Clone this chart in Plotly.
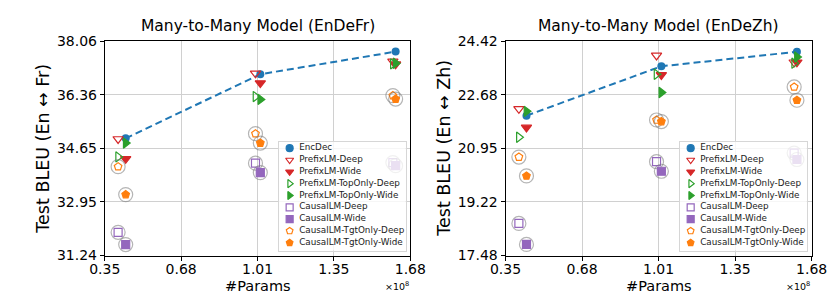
import plotly.graph_objects as go

# ---------------- data ----------------
series_names = ["EncDec", "PrefixLM-Deep", "PrefixLM-Wide", "PrefixLM-TopOnly-Deep",
                "PrefixLM-TopOnly-Wide", "CausalLM-Deep", "CausalLM-Wide",
                "CausalLM-TgtOnly-Deep", "CausalLM-TgtOnly-Wide"]

# model sizes (x 1e8 params)
params_deep = [0.408, 1.006, 1.604]
params_wide = [0.441, 1.027, 1.616]

# EnDeFr (Test BLEU En<->Fr)
encdec_fr = [34.97, 37.01, 37.73]
prefix_deep_fr = [34.95, 37.04, 37.42]
prefix_wide_fr = [34.32, 36.73, 37.33]
prefix_top_deep_fr = [34.38, 36.30, 37.34]
prefix_top_wide_fr = [34.82, 36.21, 37.36]
causal_deep_fr = [31.98, 34.18, 34.20]
causal_wide_fr = [31.59, 33.88, 34.10]
causal_tgt_deep_fr = [34.07, 35.12, 36.33]
causal_tgt_wide_fr = [33.18, 34.82, 36.22]

# EnDeZh (Test BLEU En<->Zh)
encdec_zh = [22.01, 23.61, 24.08]
prefix_deep_zh = [22.23, 23.96, 23.74]
prefix_wide_zh = [21.63, 23.33, 23.74]
prefix_top_deep_zh = [21.31, 23.35, 23.71]
prefix_top_wide_zh = [22.15, 22.76, 23.91]
causal_deep_zh = [18.52, 20.52, 20.80]
causal_wide_zh = [17.84, 20.21, 20.59]
causal_tgt_deep_zh = [20.67, 21.87, 22.94]
causal_tgt_wide_zh = [20.06, 21.82, 22.51]

x_tickvals = [0.35, 0.6825, 1.015, 1.3475, 1.68]
x_ticktext = ["0.35", "0.68", "1.01", "1.35", "1.68"]
y_tickvals_fr = [31.24, 32.945, 34.65, 36.355, 38.06]
y_ticktext_fr = ["31.24", "32.95", "34.65", "36.36", "38.06"]
y_tickvals_zh = [17.48, 19.215, 20.95, 22.685, 24.42]
y_ticktext_zh = ["17.48", "19.22", "20.95", "22.68", "24.42"]

# ---------------- styles ----------------
BLUE, RED, GREEN, PURPLE, ORANGE = "#1f77b4", "#d62728", "#2ca02c", "#9467bd", "#ff7f0e"
styles = {
    "EncDec": ("circle", BLUE),
    "PrefixLM-Deep": ("triangle-down-open", RED),
    "PrefixLM-Wide": ("triangle-down", RED),
    "PrefixLM-TopOnly-Deep": ("triangle-right-open", GREEN),
    "PrefixLM-TopOnly-Wide": ("triangle-right", GREEN),
    "CausalLM-Deep": ("square-open", PURPLE),
    "CausalLM-Wide": ("square", PURPLE),
    "CausalLM-TgtOnly-Deep": ("pentagon-open", ORANGE),
    "CausalLM-TgtOnly-Wide": ("pentagon", ORANGE),
}
FONT = "DejaVu Sans"

fig = go.Figure()

panels = [
    ("x", "y", {
        "EncDec": encdec_fr, "PrefixLM-Deep": prefix_deep_fr, "PrefixLM-Wide": prefix_wide_fr,
        "PrefixLM-TopOnly-Deep": prefix_top_deep_fr, "PrefixLM-TopOnly-Wide": prefix_top_wide_fr,
        "CausalLM-Deep": causal_deep_fr, "CausalLM-Wide": causal_wide_fr,
        "CausalLM-TgtOnly-Deep": causal_tgt_deep_fr, "CausalLM-TgtOnly-Wide": causal_tgt_wide_fr}),
    ("x2", "y2", {
        "EncDec": encdec_zh, "PrefixLM-Deep": prefix_deep_zh, "PrefixLM-Wide": prefix_wide_zh,
        "PrefixLM-TopOnly-Deep": prefix_top_deep_zh, "PrefixLM-TopOnly-Wide": prefix_top_wide_zh,
        "CausalLM-Deep": causal_deep_zh, "CausalLM-Wide": causal_wide_zh,
        "CausalLM-TgtOnly-Deep": causal_tgt_deep_zh, "CausalLM-TgtOnly-Wide": causal_tgt_wide_zh}),
]

for xa, ya, data in panels:
    for name in series_names:
        sym, col = styles[name]
        xs = params_deep if name.endswith("Deep") else params_wide
        ys = data[name]
        if name.startswith("CausalLM"):
            fig.add_trace(go.Scatter(x=xs, y=ys, mode="markers", xaxis=xa, yaxis=ya,
                                     marker=dict(symbol="circle-open", size=14,
                                                 color="rgba(120,120,120,0.55)",
                                                 line=dict(width=1.2)),
                                     showlegend=False, hoverinfo="skip"))
        if name == "EncDec":
            fig.add_trace(go.Scatter(x=xs, y=ys, mode="lines+markers", name=name,
                                     xaxis=xa, yaxis=ya,
                                     line=dict(color=col, width=2, dash="7px,4px"),
                                     marker=dict(symbol=sym, size=8, color=col),
                                     showlegend=False))
        else:
            size = 9 if "triangle" in sym else 8
            fig.add_trace(go.Scatter(x=xs, y=ys, mode="markers", name=name,
                                     xaxis=xa, yaxis=ya,
                                     marker=dict(symbol=sym, size=size, color=col,
                                                 line=dict(width=1.2, color=col)),
                                     showlegend=False))

# ---------------- custom legends (overlaid small subplots) ----------------
leg_symbols = [styles[n][0] for n in series_names]
leg_colors = [styles[n][1] for n in series_names]
for xa, ya in [("x3", "y3"), ("x4", "y4")]:
    fig.add_trace(go.Scatter(x=[0.085] * len(series_names), y=series_names, mode="markers",
                             xaxis=xa, yaxis=ya, showlegend=False, hoverinfo="skip",
                             marker=dict(symbol=leg_symbols, size=7, color=leg_colors,
                                         line=dict(width=1.2, color=leg_colors))))
    fig.add_trace(go.Scatter(x=[0.16] * len(series_names), y=series_names, mode="text",
                             text=series_names, textposition="middle right",
                             textfont=dict(family=FONT, size=8.8, color="#222"),
                             xaxis=xa, yaxis=ya, showlegend=False, hoverinfo="skip"))

W, H = 836, 295
def px_x(p): return p / W
def px_y(p): return (H - p) / H

ydom = [px_y(253.3), px_y(26.7)]
ax_common = dict(showline=True, mirror=True, linecolor="black", linewidth=1,
                 ticks="outside", ticklen=4, tickcolor="black", tickwidth=1,
                 showgrid=True, gridcolor="#d0d0d0", gridwidth=1, zeroline=False,
                 tickfont=dict(family=FONT, size=14, color="black"))
leg_ax = dict(showline=True, mirror=True, linecolor="#d6d6d6", linewidth=1,
              showgrid=False, zeroline=False, showticklabels=False, ticks="", fixedrange=True)

def ann(text, x, y, size, angle=0, xanchor="center"):
    return dict(text=text, x=x, y=y, xref="paper", yref="paper", showarrow=False,
                xanchor=xanchor, yanchor="middle", textangle=angle,
                font=dict(family=FONT, size=size, color="black"))

ymid = (ydom[0] + ydom[1]) / 2
fig.update_layout(
    width=W, height=H,
    margin=dict(l=0, r=0, t=0, b=0),
    paper_bgcolor="white",
    plot_bgcolor="rgba(255,255,255,0.8)",
    font=dict(family=FONT, color="black"),
    xaxis=dict(domain=[px_x(84), px_x(401.7)], range=[0.35, 1.68], anchor="y",
               tickvals=x_tickvals, ticktext=x_ticktext, ticklabelstandoff=-3, **ax_common),
    yaxis=dict(domain=ydom, range=[31.24, 38.06], anchor="x",
               tickvals=y_tickvals_fr, ticktext=y_ticktext_fr, **ax_common),
    xaxis2=dict(domain=[px_x(500.7), px_x(819)], range=[0.35, 1.68], anchor="y2",
                tickvals=x_tickvals, ticktext=x_ticktext, ticklabelstandoff=-3, **ax_common),
    yaxis2=dict(domain=ydom, range=[17.48, 24.42], anchor="x2",
                tickvals=y_tickvals_zh, ticktext=y_ticktext_zh, **ax_common),
    xaxis3=dict(domain=[px_x(265), px_x(397)], range=[0, 1], anchor="y3", **leg_ax),
    yaxis3=dict(domain=[px_y(248), px_y(133)], range=[8.66, -0.54], anchor="x3",
                type="category", **leg_ax),
    xaxis4=dict(domain=[px_x(682), px_x(814)], range=[0, 1], anchor="y4", **leg_ax),
    yaxis4=dict(domain=[px_y(248), px_y(133)], range=[8.66, -0.54], anchor="x4",
                type="category", **leg_ax),
    annotations=[
        ann("Many-to-Many Model (EnDeFr)", (px_x(84) + px_x(401.7)) / 2, px_y(11), 15.5),
        ann("Many-to-Many Model (EnDeZh)", (px_x(500.7) + px_x(819)) / 2, px_y(11), 15.5),
        ann("Test BLEU (En ↔ Fr)", px_x(20), ymid, 17.5, angle=-90),
        ann("Test BLEU (En ↔ Zh)", px_x(437), ymid, 17.5, angle=-90),
        ann("#Params", (px_x(84) + px_x(401.7)) / 2, px_y(286), 14.5),
        ann("#Params", (px_x(500.7) + px_x(819)) / 2, px_y(286), 14.5),
        ann("×10<sup>8</sup>", px_x(402), px_y(286), 9.5, xanchor="right"),
        ann("×10<sup>8</sup>", px_x(819), px_y(286), 9.5, xanchor="right"),
    ],
)

fig.write_html("out.html")
